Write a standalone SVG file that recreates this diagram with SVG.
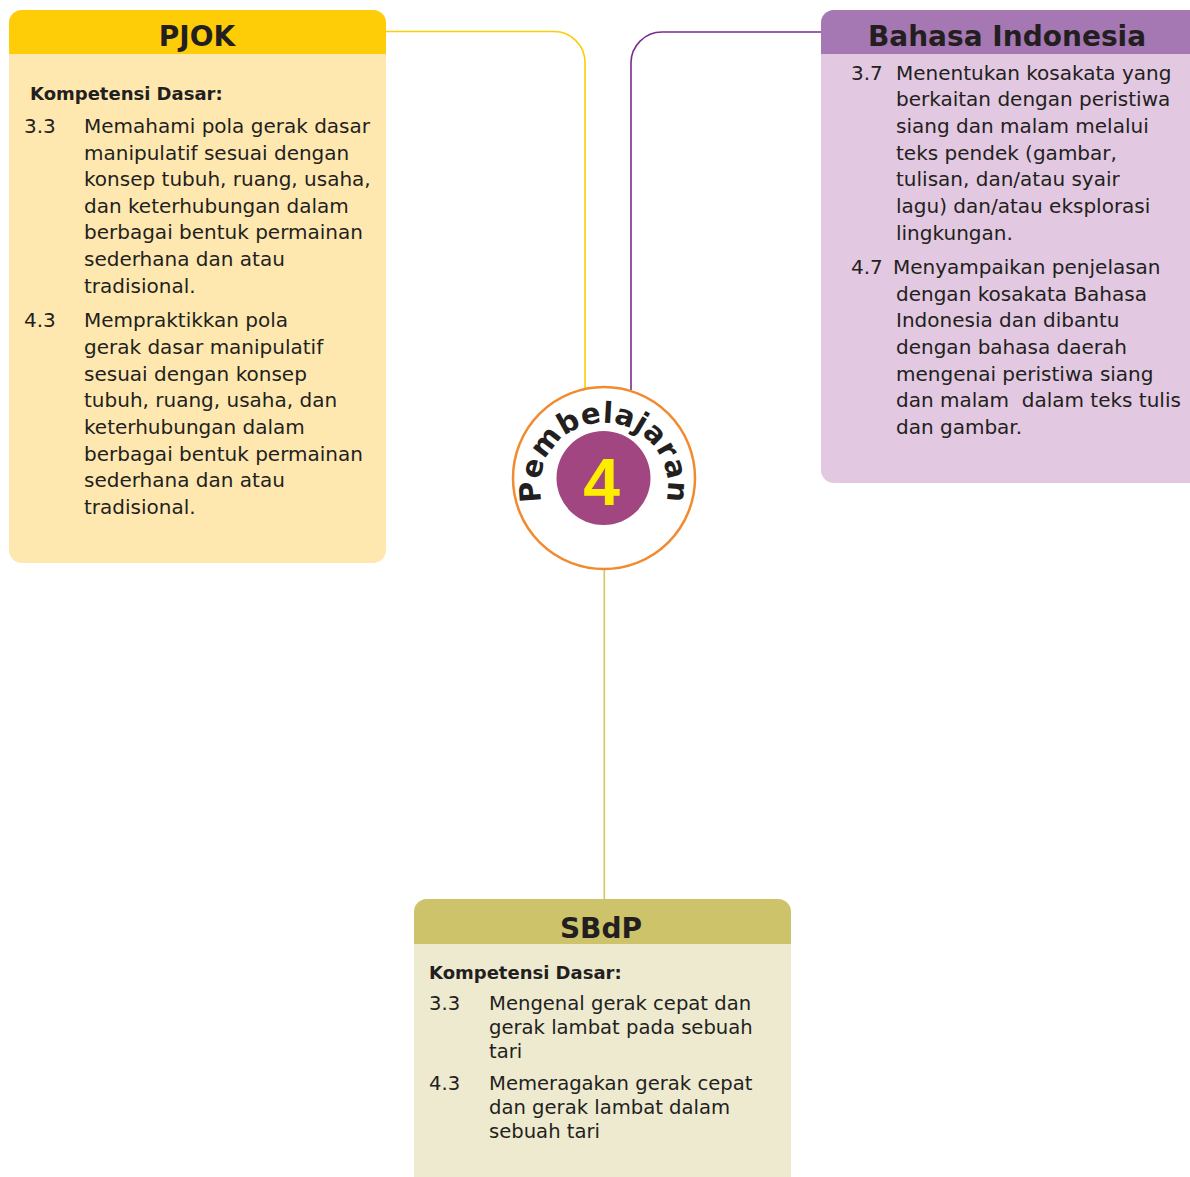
<svg xmlns="http://www.w3.org/2000/svg" width="1190" height="1177" viewBox="0 0 1190 1177">
<defs>
<style>
.t{font-family:"DejaVu Sans","Liberation Sans",sans-serif;font-size:20px;fill:#231F20}
.s{font-size:19.6px}
.kd{font-family:"DejaVu Sans","Liberation Sans",sans-serif;font-size:18px;font-weight:bold;fill:#231F20}
.h{font-family:"DejaVu Sans","Liberation Sans",sans-serif;font-size:28px;font-weight:bold;fill:#231F20;text-anchor:middle}
.c{fill:none;stroke-width:1.6}
</style>
<path id="arc" d="M542.8,505.3 A64,64 0 1 1 665.2,505.3"/>
</defs>
<rect width="1190" height="1177" fill="#FFFFFF"/>
<g id="connectors">
<path class="c" stroke="#FFCC08" d="M386,31.5 H554 A31,31 0 0 1 585,62.5 V390"/>
<path class="c" stroke="#7B2D8E" d="M822,32 H662 A31,31 0 0 0 631,63 V390"/>
<path class="c" stroke="#D6C65C" d="M604.3,569 V899"/>
</g>
<g id="pjok">
<rect x="9" y="10" width="377" height="553" rx="13" fill="#FFE8B0"/>
<path d="M9,54 V23 A13,13 0 0 1 22,10 H373 A13,13 0 0 1 386,23 V54 Z" fill="#FFCC08"/>
<text class="h" x="197" y="46">PJOK</text>
<text class="kd" x="30" y="100">Kompetensi Dasar:</text>
<g class="t">
<text x="24" y="133">3.3</text>
<text x="84" y="133">Memahami pola gerak dasar</text>
<text x="84" y="160">manipulatif sesuai dengan</text>
<text x="84" y="186">konsep tubuh, ruang, usaha,</text>
<text x="84" y="213">dan keterhubungan dalam</text>
<text x="84" y="239">berbagai bentuk permainan</text>
<text x="84" y="266">sederhana dan atau</text>
<text x="84" y="293">tradisional.</text>
<text x="24" y="327">4.3</text>
<text x="84" y="327">Mempraktikkan pola</text>
<text x="84" y="354">gerak dasar manipulatif</text>
<text x="84" y="381">sesuai dengan konsep</text>
<text x="84" y="407">tubuh, ruang, usaha, dan</text>
<text x="84" y="434">keterhubungan dalam</text>
<text x="84" y="461">berbagai bentuk permainan</text>
<text x="84" y="487">sederhana dan atau</text>
<text x="84" y="514">tradisional.</text>
</g>
</g>
<g id="bahasa-indonesia">
<rect x="821" y="10" width="390" height="473" rx="13" fill="#E2C8E1"/>
<path d="M821,54 V23 A13,13 0 0 1 834,10 H1211 V54 Z" fill="#A577B3"/>
<text class="h" x="1007" y="46">Bahasa Indonesia</text>
<g class="t">
<text x="851" y="80">3.7</text>
<text x="896" y="80">Menentukan kosakata yang</text>
<text x="896" y="106">berkaitan dengan peristiwa</text>
<text x="896" y="133">siang dan malam melalui</text>
<text x="896" y="160">teks pendek (gambar,</text>
<text x="896" y="186">tulisan, dan/atau syair</text>
<text x="896" y="213">lagu) dan/atau eksplorasi</text>
<text x="896" y="240">lingkungan.</text>
<text x="851" y="274">4.7</text>
<text x="893" y="274">Menyampaikan penjelasan</text>
<text x="896" y="301">dengan kosakata Bahasa</text>
<text x="896" y="327">Indonesia dan dibantu</text>
<text x="896" y="354">dengan bahasa daerah</text>
<text x="896" y="381">mengenai peristiwa siang</text>
<text x="896" y="407" xml:space="preserve">dan malam  dalam teks tulis</text>
<text x="896" y="434">dan gambar.</text>
</g>
</g>
<g id="sbdp">
<rect x="414" y="899" width="377" height="290" rx="13" fill="#EEEAD0"/>
<path d="M414,944 V912 A13,13 0 0 1 427,899 H778 A13,13 0 0 1 791,912 V944 Z" fill="#CDC36B"/>
<text class="h" x="601" y="938">SBdP</text>
<text class="kd" x="429" y="979">Kompetensi Dasar:</text>
<g class="t s">
<text x="429" y="1010">3.3</text>
<text x="489" y="1010">Mengenal gerak cepat dan</text>
<text x="489" y="1034">gerak lambat pada sebuah</text>
<text x="489" y="1058">tari</text>
<text x="429" y="1090">4.3</text>
<text x="489" y="1090">Memeragakan gerak cepat</text>
<text x="489" y="1114">dan gerak lambat dalam</text>
<text x="489" y="1138">sebuah tari</text>
</g>
</g>
<g id="pembelajaran-4">
<circle cx="604" cy="478" r="91" fill="#FFFFFF" stroke="#F28B30" stroke-width="2.5"/>
<circle cx="603.5" cy="478" r="47" fill="#A24682"/>
<text x="601.5" y="505" font-family="Liberation Sans, Arial, sans-serif" font-size="66" font-weight="bold" fill="#FFED00" text-anchor="middle">4</text>
<text font-family="DejaVu Sans, Liberation Sans, sans-serif" font-size="29" font-weight="bold" fill="#231F20" letter-spacing="0.5"><textPath href="#arc" startOffset="50%" text-anchor="middle">Pembelajaran</textPath></text>
</g>
</svg>
